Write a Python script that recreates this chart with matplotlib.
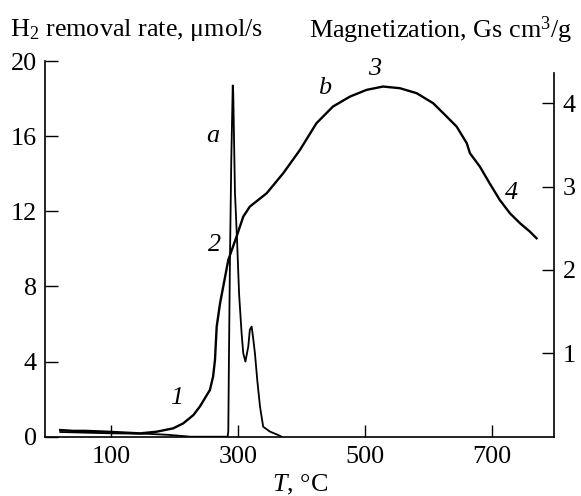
import matplotlib.pyplot as plt

plt.rcParams["font.family"] = ["Liberation Serif", "DejaVu Serif"]
plt.rcParams["mathtext.fontset"] = "custom"
plt.rcParams["mathtext.rm"] = "Liberation Serif"
plt.rcParams["mathtext.it"] = "Liberation Serif:italic"

FS = 18.8

# curve a: H2 removal rate (left axis)
temp_a = [20, 100, 160, 190, 215, 225, 284, 285, 286, 287.6, 289.7, 292, 292.8,
          295.5, 299, 302, 306, 308.6, 312, 316.5, 319, 321.8, 324, 327, 330.7,
          335, 340, 350.7, 363.7, 369]
rate_a = [0.25, 0.18, 0.15, 0.1, 0.03, 0, 0, 0.3, 4.1, 9.4, 14.7, 18.7, 18.3,
          13.0, 10.3, 7.6, 5.5, 4.44, 4.0, 4.8, 5.7, 5.86, 5.3, 4.44, 3.0,
          1.6, 0.53, 0.27, 0.09, 0]

# curve 1: magnetization (right axis)
temp_m = [20, 40, 60, 93, 120, 146, 172, 198, 214, 230, 240, 256, 261, 264,
          266.7, 272, 277, 285, 298, 308.6, 319, 345.5, 371.6, 398, 424, 450,
          477, 503, 529, 555.5, 582, 608, 624, 645, 661, 666, 681.6, 697, 713,
          729, 745, 760.5, 771]
mag_m = [0.08, 0.07, 0.07, 0.06, 0.05, 0.04, 0.06, 0.10, 0.16, 0.26, 0.36,
         0.56, 0.72, 0.92, 1.32, 1.6, 1.8, 2.12, 2.4, 2.64, 2.76, 2.92, 3.16,
         3.44, 3.76, 3.96, 4.08, 4.16, 4.2, 4.18, 4.12, 4.0, 3.88, 3.72, 3.52,
         3.40, 3.24, 3.04, 2.84, 2.68, 2.56, 2.46, 2.38]

x_ticks = [100, 300, 500, 700]
left_ticks = [0, 4, 8, 12, 16, 20]
right_ticks = [1, 2, 3, 4]

# curve labels (temperature, left-axis value, text)
curve_labels = [(261, 16.0, "a"), (437, 18.55, "b"), (516, 19.6, "3"),
                (732, 12.96, "4"), (264, 10.2, "2"), (204, 2.04, "1")]

fig = plt.figure(figsize=(5.81, 4.96), dpi=100)
ax = fig.add_axes([45 / 581, 1 - 436.7 / 496, (554.3 - 45) / 581, (436.7 - 61) / 496])
ax2 = ax.twinx()

ax.plot(temp_a, rate_a, color="black", lw=1.3)
ax2.plot(temp_m, mag_m, color="black", lw=1.7)

ax.set_xlim(-4, 799)
ax.set_ylim(0, 20)
ax2.set_ylim(0, 20 * 18.78 / 83.35)

ax.set_xticks(x_ticks)
ax.set_yticks(left_ticks)
ax2.set_yticks(right_ticks)

for a in (ax, ax2):
    a.spines["top"].set_visible(False)
    for s in a.spines.values():
        s.set_linewidth(1.2)
ax.spines["right"].set_visible(False)
ax2.spines["left"].set_visible(False)
ax2.spines["bottom"].set_visible(False)
ax2.spines["right"].set_bounds(0, 4.36)

ax.tick_params(axis="both", direction="in", length=9, width=1, labelsize=FS)
ax.tick_params(axis="y", pad=6)
ax.tick_params(axis="x", pad=7)
ax2.tick_params(axis="y", direction="in", length=9, width=1, labelsize=FS, pad=6)

for t, v, s in curve_labels:
    ax.text(t, v, s, fontsize=FS, style="italic", ha="center", va="center")

ax.set_xlabel("$\\mathit{T}$, °C", fontsize=FS, labelpad=3)

fig.text(10 / 581, 1 - 30 / 496, "H$_2$ removal rate, μmol/s", fontsize=FS,
         ha="left", va="center")
fig.text(572 / 581, 1 - 30 / 496, "Magnetization, Gs cm$^3$/g", fontsize=FS,
         ha="right", va="center")

fig.savefig("out.png", dpi=100)
